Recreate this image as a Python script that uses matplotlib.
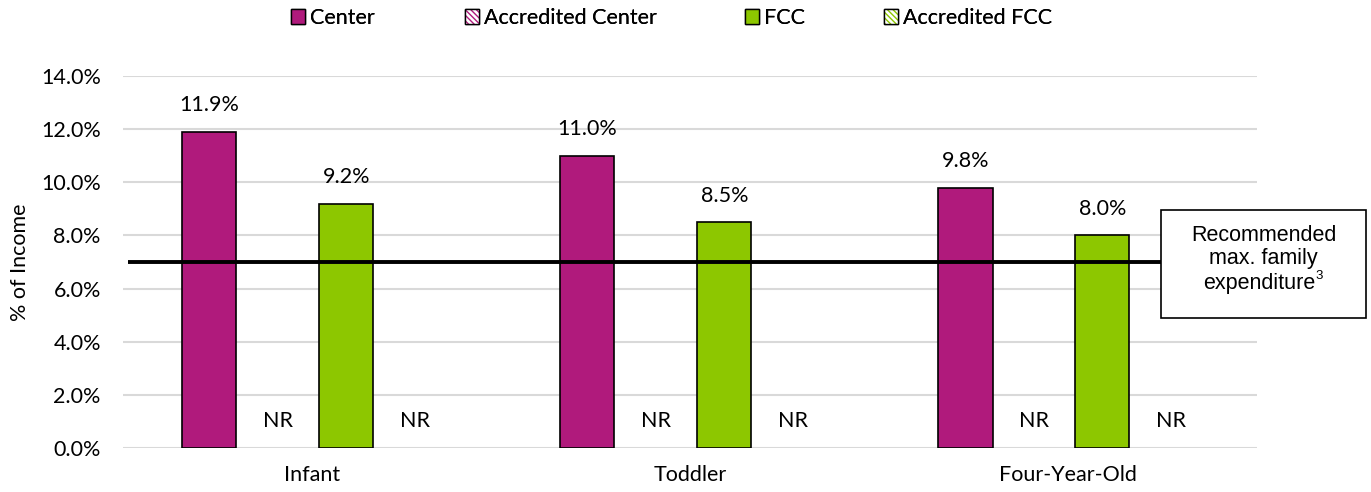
import matplotlib.pyplot as plt
import numpy as np
from matplotlib.patches import Patch, Rectangle
from matplotlib.legend_handler import HandlerTuple

# данные
categories = ['Infant', 'Toddler', 'Four-Year-Old']
series = ['Center', 'Accredited Center', 'FCC', 'Accredited FCC']
center = [11.9, 11.0, 9.8]
acc_center = [None, None, None]   # NR
fcc = [9.2, 8.5, 8.0]
acc_fcc = [None, None, None]      # NR
recommended = 7.0

magenta = '#B01A7C'
green = '#8DC700'
font = 'Lato'
fs = 15.5

W, H = 1371, 492
fig = plt.figure(figsize=(W / 100, H / 100), dpi=100)
ax = fig.add_axes([0.0897, 0.0894, 0.8273, 0.7561])

x = np.arange(len(categories))
slot = 0.181
width = 0.143
offsets = [-1.5 * slot, -0.5 * slot, 0.5 * slot, 1.5 * slot]
values = [center, acc_center, fcc, acc_fcc]
colors = [magenta, 'white', green, 'white']

for k in range(4):
    for i in range(len(categories)):
        v = values[k][i]
        xi = x[i] + offsets[k]
        if v is None:
            ax.text(xi, 1.0, 'NR', ha='center', va='center', fontsize=fs, family=font)
        else:
            ax.bar(xi, v, width, color=colors[k], edgecolor='black', linewidth=1.2, zorder=3)
            ax.text(xi, v + 1.0, f'{v:.1f}%', ha='center', va='center', fontsize=fs, family=font)

# линия рекомендованного уровня
ax.plot([-0.487, 2.246], [recommended, recommended], color='black', linewidth=2.8, zorder=4,
        solid_capstyle='butt', clip_on=False)

ax.set_xlim(-0.5, 2.5)
ax.set_ylim(0, 14)
yt = np.arange(0, 14.1, 2)
ax.set_yticks(yt)
ax.set_yticklabels([f'{t:.1f}%' for t in yt], family=font, fontsize=fs)
ax.set_xticks(x)
ax.set_xticklabels(categories, family=font, fontsize=fs)
ax.tick_params(length=0)
ax.tick_params(axis='y', pad=16)
ax.tick_params(axis='x', pad=12)
ax.grid(axis='y', color='#D9D9D9', linewidth=1.5, zorder=0)
ax.set_axisbelow(True)
for s in ax.spines.values():
    s.set_visible(False)
ax.set_ylabel('% of Income', family=font, fontsize=fs, labelpad=8)

# подпись в рамке
fig.add_artist(Rectangle((1161 / W, 1 - 318 / H), 205 / W, 108 / H,
                         transform=fig.transFigure, facecolor='white', edgecolor='black',
                         linewidth=1.2, zorder=5))
fig.text(1263.5 / W, 1 - 247 / H, 'Recommended\nmax. family', ha='center', va='center',
         fontsize=15.5, family='Liberation Sans', linespacing=1.1, zorder=6)
fig.text(1259 / W, 1 - 284 / H, 'expenditure', ha='center', va='center',
         fontsize=15.5, family='Liberation Sans', zorder=6)
fig.text(1315 / W, 1 - 276 / H, '3', ha='left', va='center',
         fontsize=9.5, family='Liberation Sans', zorder=6)

# легенда
h_center = Patch(facecolor=magenta, edgecolor='black')
h_acc_c = (Patch(facecolor='white', edgecolor=magenta, hatch='\\\\\\\\\\\\', linewidth=0),
           Patch(facecolor='none', edgecolor='black'))
h_fcc = Patch(facecolor=green, edgecolor='black')
h_acc_f = (Patch(facecolor='white', edgecolor=green, hatch='\\\\\\\\\\\\', linewidth=0),
           Patch(facecolor='none', edgecolor='black'))
handles = [h_center, h_acc_c, h_fcc, h_acc_f]
leg_x = [291, 465, 745, 884]
for h, name, lx in zip(handles, series, leg_x):
    leg = fig.legend([h], [name], loc='center left', bbox_to_anchor=(lx / W, 1 - 18 / H),
                     frameon=False, handler_map={tuple: HandlerTuple(ndivide=1)},
                     handlelength=0.65, handleheight=0.65, handletextpad=0.25,
                     borderpad=0, borderaxespad=0, prop={'family': font, 'size': fs})
    fig.add_artist(leg)

fig.savefig('out.png', dpi=100)
